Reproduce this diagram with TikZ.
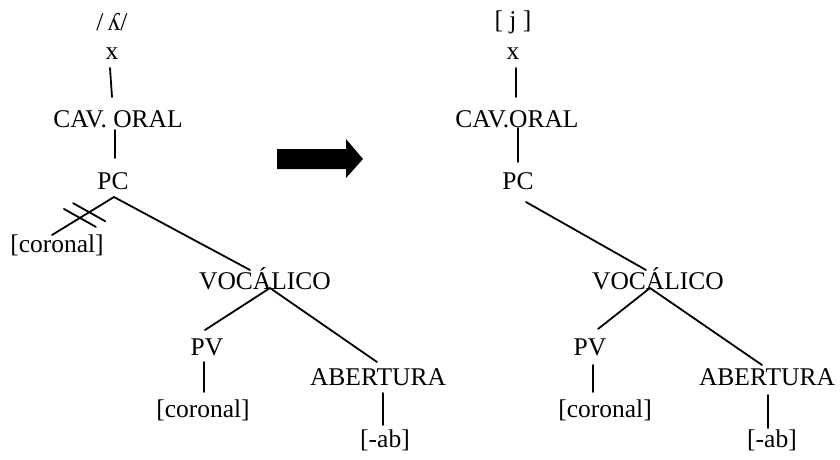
\documentclass[tikz,border=0pt]{standalone}
\usepackage{fontspec}
\setmainfont{Liberation Serif}
\usetikzlibrary{calc}
\begin{document}
\begin{tikzpicture}[x=1pt,y=-1pt,
  lbl/.style={inner sep=1pt,font=\fontsize{25.5}{29}\selectfont},
  br/.style={line width=1.8pt,line cap=round}]
\useasboundingbox (0,0) rectangle (840,459);

% ---- left tree: /ʎ/ before delinking ----
\node[lbl] (phonL) at (112,22) {/\,ʎ/};
\node[lbl] (xL)    at (112,54) {x};
\node[lbl] (cavL)  at (118,119) {CAV. ORAL};
\node[lbl] (pcL)   at (113,181) {PC};
\node[lbl] (corA)  at (57,245) {[coronal]};
\node[lbl] (vocL)  at (265,279) {VOCÁLICO};
\node[lbl] (pvL)   at (207,347) {PV};
\node[lbl] (corB)  at (203,410) {[coronal]};
\node[lbl] (abL)   at (378,377) {ABERTURA};
\node[lbl] (abvL)  at (385,440) {[-ab]};

\coordinate (pcLb) at ($(pcL)+(1,16)$);
\coordinate (corAt) at ($(corA)+(-5,-10)$);
\coordinate (vocLb) at ($(vocL)+(5,9)$);

\draw[br] ($(xL)+(-2,14)$) -- ($(cavL)+(-6,-22)$);
\draw[br] ($(cavL)+(-3,11)$) -- ($(pcL)+(2,-23)$);
\draw[br] (pcLb) -- (corAt);
\draw[br] (pcLb) -- ($(vocL)+(-15,-9)$);
\draw[br] (vocLb) -- ($(pvL)+(-2,-17)$);
\draw[br] (vocLb) -- ($(abL)+(-1,-15)$);
\draw[br] ($(pvL)+(-3,15)$) -- ($(corB)+(1,-18)$);
\draw[br] ($(abL)+(5,16)$) -- ($(abvL)+(-2,-15)$);
% delinking marks on the [coronal] branch
\draw[br] ($(corAt)!0.45!(pcLb)$) ++(-16,-9) -- ++(32,18);
\draw[br] ($(corAt)!0.60!(pcLb)$) ++(-16,-9) -- ++(32,18);

% ---- block arrow ----
\fill (277,149) -- (346,149) -- (346,139) -- (363,159) -- (346,178)
      -- (346,169) -- (277,169) -- cycle;

% ---- right tree: [j] ----
\node[lbl] (phonR) at (513,22) {[ j ]};
\node[lbl] (xR)    at (513,54) {x};
\node[lbl] (cavR)  at (517,119) {CAV.ORAL};
\node[lbl] (pcR)   at (518,181) {PC};
\node[lbl] (vocR)  at (658,279) {VOCÁLICO};
\node[lbl] (pvR)   at (590,347) {PV};
\node[lbl] (corR)  at (605,410) {[coronal]};
\node[lbl] (abR)   at (767,377) {ABERTURA};
\node[lbl] (abvR)  at (772,440) {[-ab]};

\coordinate (vocRb) at ($(vocR)+(-8,9)$);

\draw[br] ($(xR)+(3,14)$) -- ($(cavR)+(-1,-22)$);
\draw[br] ($(cavR)+(1,9)$) -- ($(pcR)+(0,-19)$);
\draw[br] ($(pcR)+(8,21)$) -- ($(vocR)+(-12,-9)$);
\draw[br] (vocRb) -- ($(pvR)+(8,-18)$);
\draw[br] (vocRb) -- ($(abR)+(-5,-12)$);
\draw[br] ($(pvR)+(3,18)$) -- ($(corR)+(-12,-18)$);
\draw[br] ($(abR)+(1,18)$) -- ($(abvR)+(-4,-12)$);
\end{tikzpicture}
\end{document}
